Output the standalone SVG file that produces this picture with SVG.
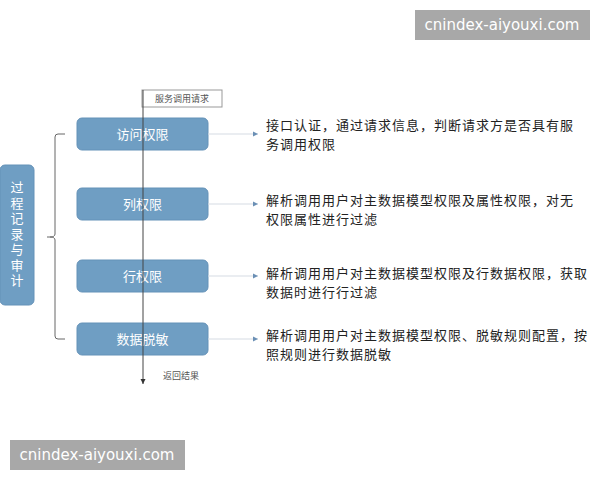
<svg xmlns="http://www.w3.org/2000/svg" width="600" height="480" viewBox="0 0 600 480">
<style>
.node{fill:#6f9ec3;stroke:#6592b8;stroke-width:1}
.nt{font-family:"Noto Sans CJK SC","Liberation Sans",sans-serif;font-size:13px;fill:#ffffff;text-anchor:middle}
.vt{writing-mode:vertical-rl;letter-spacing:2.5px}
.desc{font-family:"Noto Sans CJK SC","Liberation Sans",sans-serif;font-size:13px;letter-spacing:1px;fill:#222222}
.small{font-family:"Noto Sans CJK SC","Liberation Sans",sans-serif;font-size:9px;fill:#555555}
.wm{fill:#a8a8a8}
.wmt{font-family:"DejaVu Sans","Liberation Sans",sans-serif;font-size:15px;fill:#ffffff;text-anchor:middle}
.conn{stroke:#d5dbe3;stroke-width:1;fill:none}
</style>
<defs>
<marker id="ah" markerWidth="6" markerHeight="6" refX="5" refY="3" orient="auto" markerUnits="userSpaceOnUse">
<path d="M0,0.5 L5,3 L0,5.5 Z" fill="#6a8fb5"/>
</marker>
<marker id="ahd" markerWidth="6" markerHeight="6" refX="5" refY="3" orient="auto" markerUnits="userSpaceOnUse">
<path d="M0,0.5 L5,3 L0,5.5 Z" fill="#333333"/>
</marker>
</defs>
<rect width="600" height="480" fill="#ffffff"/>
<g id="watermark-top"><rect class="wm" x="415" y="10" width="175" height="30"/><text class="wmt" x="502" y="30">cnindex-aiyouxi.com</text></g>
<g id="watermark-bottom"><rect class="wm" x="10" y="440" width="175" height="30"/><text class="wmt" x="97" y="460">cnindex-aiyouxi.com</text></g>
<g id="request"><rect x="142" y="90" width="80" height="17" fill="#ffffff" stroke="#999999" stroke-width="1"/><text class="small" x="182" y="102" text-anchor="middle">服务调用请求</text></g>
<g id="audit"><rect class="node" x="0" y="165" width="34" height="140" rx="5"/>
<text class="nt vt" x="17" y="235">过程记录与审计</text></g>
<g id="n1"><rect class="node" x="77" y="118" width="131" height="32" rx="5"/><text class="nt" x="142.5" y="139">访问权限</text></g>
<g id="n2"><rect class="node" x="77" y="188" width="131" height="32" rx="5"/><text class="nt" x="142.5" y="209">列权限</text></g>
<g id="n3"><rect class="node" x="77" y="260" width="131" height="32" rx="5"/><text class="nt" x="142.5" y="281">行权限</text></g>
<g id="n4"><rect class="node" x="77" y="323" width="131" height="32" rx="5"/><text class="nt" x="142.5" y="344">数据脱敏</text></g>
<g id="connectors">
<line x1="143" y1="90" x2="143" y2="384" stroke="#444444" stroke-width="1" marker-end="url(#ahd)"/>
<path d="M65,134 L58,134 Q55,134 55,137 L55,234 Q55,237 50,237 L47,237 M50,237 Q55,237 55,240 L55,336 Q55,339 58,339 L65,339" fill="none" stroke="#666666" stroke-width="1"/>
<line class="conn" x1="208" y1="134" x2="258" y2="134" marker-end="url(#ah)"/>
<line class="conn" x1="208" y1="204" x2="258" y2="204" marker-end="url(#ah)"/>
<line class="conn" x1="208" y1="276" x2="258" y2="276" marker-end="url(#ah)"/>
<line class="conn" x1="208" y1="339" x2="258" y2="339" marker-end="url(#ah)"/>
</g>
<g id="descriptions">
<text class="desc"><tspan x="266" y="129.5">接口认证，通过请求信息，判断请求方是否具有服</tspan><tspan x="266" y="148.5">务调用权限</tspan></text>
<text class="desc"><tspan x="266" y="204.5">解析调用用户对主数据模型权限及属性权限，对无</tspan><tspan x="266" y="223.5">权限属性进行过滤</tspan></text>
<text class="desc"><tspan x="266" y="277.5">解析调用用户对主数据模型权限及行数据权限，获取</tspan><tspan x="266" y="296.5">数据时进行行过滤</tspan></text>
<text class="desc"><tspan x="266" y="339.5">解析调用用户对主数据模型权限、脱敏规则配置，按</tspan><tspan x="266" y="358.5">照规则进行数据脱敏</tspan></text>
</g>
<text class="small" x="163" y="379">返回结果</text>
</svg>
